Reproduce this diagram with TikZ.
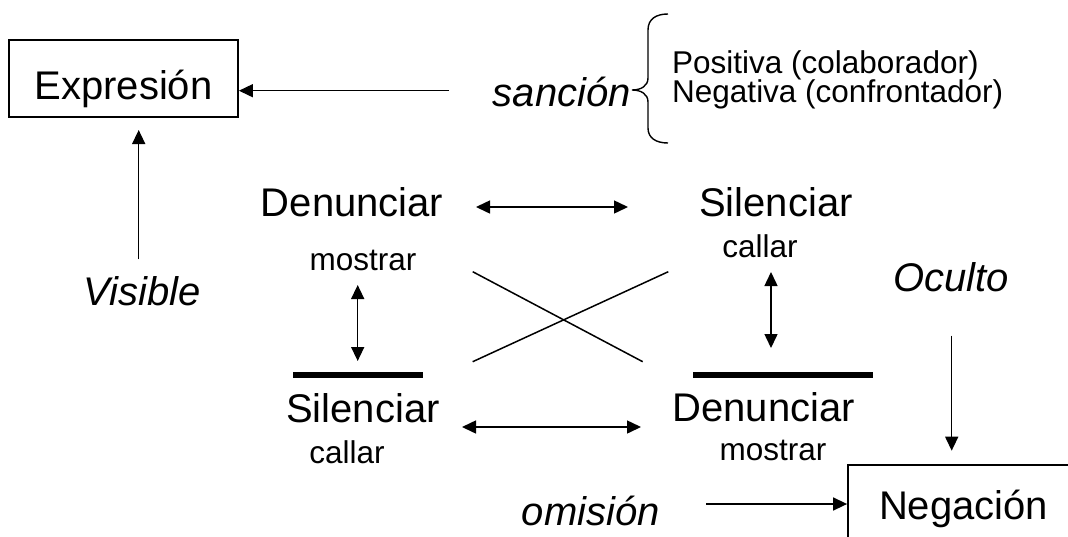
\documentclass[tikz,border=0pt]{standalone}
\usepackage{fontspec}
\setmainfont{Liberation Sans}
\usetikzlibrary{arrows.meta}
\begin{document}
\begin{tikzpicture}[x=1pt,y=-1pt,
  big/.style={font=\fontsize{40}{48}\selectfont, inner sep=0pt},
  small/.style={font=\fontsize{31.5}{38}\selectfont, inner sep=0pt},
  ital/.style={font=\fontsize{40}{48}\selectfont\itshape, inner sep=0pt},
  boxnode/.style={draw, line width=1.8pt, big},
  conn/.style={line width=1.5pt},
  tipone/.style={conn, -{Triangle[width=13pt,length=14pt]}},
  tiptwo/.style={conn, {Triangle[width=13pt,length=14pt]}-{Triangle[width=13pt,length=14pt]}},
  bar/.style={line width=6pt},
  bracepath/.style={line width=1.4pt}]
\clip (0,0) rectangle (1068,536);
\fill[white] (0,0) rectangle (1068,536);

% boxes
\node[boxnode, minimum width=229pt, minimum height=77pt, text height=41.6pt, text depth=0pt] (expr) at (123.5,78.5) {Expresión};
\node[boxnode, minimum width=231pt, minimum height=77pt, text height=31.6pt, text depth=0pt] (negbox) at (963.5,503.5) {Negación};

% texts
\node[ital, anchor=base west] (sanc) at (492.7,106) {sanción};
\node[small, anchor=base west] (pos) at (672,73) {Positiva (colaborador)};
\node[small, anchor=base west] (neg) at (672,102) {Negativa (confrontador)};
\node[big, anchor=base west] (den1) at (260.7,216) {Denunciar};
\node[big, anchor=base west] (sil1) at (699,216) {Silenciar};
\node[small, anchor=base] (mos1) at (363,270) {mostrar};
\node[small, anchor=base] (cal1) at (760,257) {callar};
\node[ital, anchor=base west] (vis) at (83.3,305) {Visible};
\node[ital, anchor=base west] (ocu) at (893.3,291.7) {Oculto};
\node[big, anchor=base west] (sil2) at (286,422) {Silenciar};
\node[big, anchor=base east] (den2) at (855,421.7) {Denunciar};
\node[small, anchor=base] (cal2) at (347,463.3) {callar};
\node[small, anchor=base] (mos2) at (773,460) {mostrar};
\node[ital, anchor=base east] (omi) at (660,525) {omisión};

% coordinates for free connector ends
\coordinate (s0) at (449,90.7);
\coordinate (v0) at (138.7,259.3);
\coordinate (v1) at (138.7,130);
\coordinate (ta) at (476,207);
\coordinate (tb) at (628,207);
\coordinate (ba) at (462,427);
\coordinate (bb) at (641,427);
\coordinate (la) at (357.7,285);
\coordinate (lb) at (357.7,361);
\coordinate (ra) at (771,272);
\coordinate (rb) at (771,348);
\coordinate (o0) at (951.7,335.7);
\coordinate (o1) at (951.7,450.7);
\coordinate (m0) at (706,504);
\coordinate (xa) at (472.7,271.7);
\coordinate (xb) at (642.7,361.7);
\coordinate (xc) at (472.7,361.7);
\coordinate (xd) at (668.3,271.7);
\coordinate (bl0) at (293.3,374.7);
\coordinate (bl1) at (422.7,374.7);
\coordinate (br0) at (693.3,375);
\coordinate (br1) at (873.3,375);

% connectors
\draw[tipone] (s0) -- (expr.east |- s0);
\draw[tipone] (v0) -- (v1);
\draw[tiptwo] (ta) -- (tb);
\draw[tiptwo] (ba) -- (bb);
\draw[tiptwo] (la) -- (lb);
\draw[tiptwo] (ra) -- (rb);
\draw[tipone] (o0) -- (o1);
\draw[tipone] (m0) -- (negbox.west |- m0);
\draw[conn] (xa) -- (xb);
\draw[conn] (xc) -- (xd);
\draw[bar] (bl0) -- (bl1);
\draw[bar] (br0) -- (br1);

% brace
\draw[bracepath] (668,14) .. controls (656,14) and (648,19) .. (648,30) -- (648,78)
  .. controls (648,86) and (641,90) .. (632,90)
  .. controls (641,90) and (648,94) .. (648,102) -- (648,128)
  .. controls (648,138) and (656,143) .. (668,143);
\end{tikzpicture}
\end{document}
